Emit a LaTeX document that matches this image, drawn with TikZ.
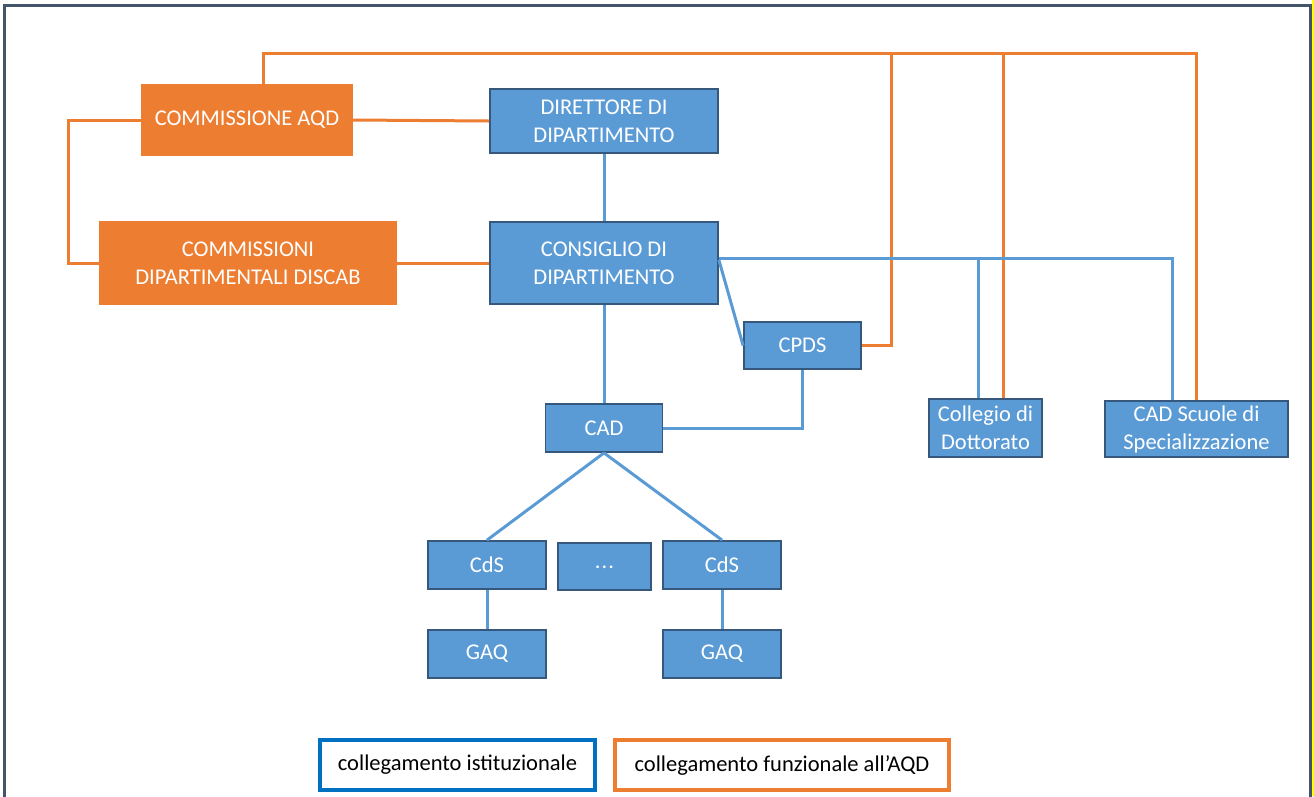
\documentclass[tikz,border=0pt]{standalone}
\usepackage{fontspec}
\setmainfont{Carlito}
\usepackage{tikz}
\usetikzlibrary{calc}
\usetikzlibrary{positioning}
\definecolor{blu}{HTML}{5B9BD5}
\definecolor{blubordo}{HTML}{35587C}
\definecolor{arancio}{HTML}{ED7D31}
\definecolor{legblu}{HTML}{0070C0}
\definecolor{cornice}{HTML}{44546A}
\definecolor{giallo}{HTML}{FFFF00}

\begin{document}
\begin{tikzpicture}[x=1pt,y=-1pt,
    font=\fontsize{22.5}{28}\selectfont,
    ufficio/.style={draw=blubordo,line width=1.8pt,fill=blu,text=white,align=center,inner sep=0pt},
    commissione/.style={fill=arancio,text=white,align=center,inner sep=0pt},
    legenda/.style={draw=#1,line width=4pt,fill=white,text=black,inner sep=0pt,minimum height=50pt},
    istituzionale/.style={draw=blu,line width=3pt},
    funzionale/.style={draw=arancio,line width=3pt}]
      \useasboundingbox (0,0) rectangle (1314,796);
      % cornice
      \draw[giallo,line width=2pt] (1312.5,0) -- (1312.5,796);
      \draw[cornice,line width=3pt] (4,5) rectangle (1310,812);

      % organi
      \node[commissione,minimum width=212pt,minimum height=72pt] (aqd) at (247,120) {COMMISSIONE AQD};
      \node[commissione,minimum width=298pt,minimum height=84pt] (discab) at (248,263) {COMMISSIONI\\DIPARTIMENTALI DISCAB};
      \node[ufficio,minimum width=228pt,minimum height=64pt] (dir) at (604,121) {DIRETTORE DI\\DIPARTIMENTO};
      \node[ufficio,minimum width=228pt,minimum height=82pt] (cons) at (604,263) {CONSIGLIO DI\\DIPARTIMENTO};
      \node[ufficio,minimum width=117pt,minimum height=47pt] (cpds) at (802.5,345.5) {CPDS};
      \node[ufficio,minimum width=117pt,minimum height=48pt] (cad) at (604,428) {CAD};
      \node[ufficio,minimum width=113pt,minimum height=58pt] (coll) at (985.5,428) {Collegio di\\Dottorato};
      \node[ufficio,minimum width=183pt,minimum height=56pt] (scuole) at (1196.5,429) {CAD Scuole di\\Specializzazione};

      % corsi di studio
      \node[ufficio,minimum width=118pt,minimum height=48pt] (cds1) at (487,565) {CdS};
      \node[ufficio,minimum width=93pt,minimum height=47pt] (altri) at (604.5,566.5) {\raisebox{-4pt}{.\kern1pt.\kern1pt.}};
      \node[ufficio,minimum width=118pt,minimum height=48pt] (cds2) at (722,565) {CdS};
      \node[ufficio,minimum width=118pt,minimum height=48pt] (gaq1) at (487,654) {GAQ};
      \node[ufficio,minimum width=118pt,minimum height=48pt] (gaq2) at (722,654) {GAQ};

      % collegamenti funzionali
      \coordinate (alto) at (0,53);
      \draw[funzionale] ([xshift=16pt]aqd.north) |- (alto -| scuole.north) -- (scuole.north);
      \draw[funzionale] (cpds.east) -| ([xshift=30pt]alto -| cpds.east);
      \path ([xshift=17.5pt]coll.north) coordinate (dott);
      \draw[funzionale] (dott) -- (dott |- alto);
      \draw[funzionale] (aqd.east) -- (dir.west);
      \draw[funzionale] (aqd.west) -- ++(-72,0) |- (discab.west);
      \draw[funzionale] (discab.east) -- (cons.west);

      % collegamenti istituzionali
      \draw[istituzionale] (dir.south) -- (cons.north);
      \draw[istituzionale] (cons.south) -- (cad.north);
      \coordinate (destra) at ([yshift=5pt]cons.east);
      \draw[istituzionale] (destra) -| ([xshift=-24.5pt]scuole.north);
      \path ([xshift=-7.5pt]coll.north) coordinate (dott2);
      \draw[istituzionale] (dott2) -- (dott2 |- destra);
      \draw[istituzionale] ([yshift=3pt]cons.east) -- (cpds.west);
      \draw[istituzionale] (cpds.south) |- (cad.east);
      \draw[istituzionale] (cad.south) -- (cds1.north);
      \draw[istituzionale] (cad.south) -- (cds2.north);
      \draw[istituzionale] (cds1.south) -- (gaq1.north);
      \draw[istituzionale] (cds2.south) -- (gaq2.north);

      % legenda
      \node[legenda=legblu,minimum width=275pt] (leg1) at (457.5,765) {collegamento istituzionale};
      \node[legenda=arancio,minimum width=334pt] (leg2) at (782,765) {collegamento funzionale all’AQD};
\end{tikzpicture}
\end{document}
